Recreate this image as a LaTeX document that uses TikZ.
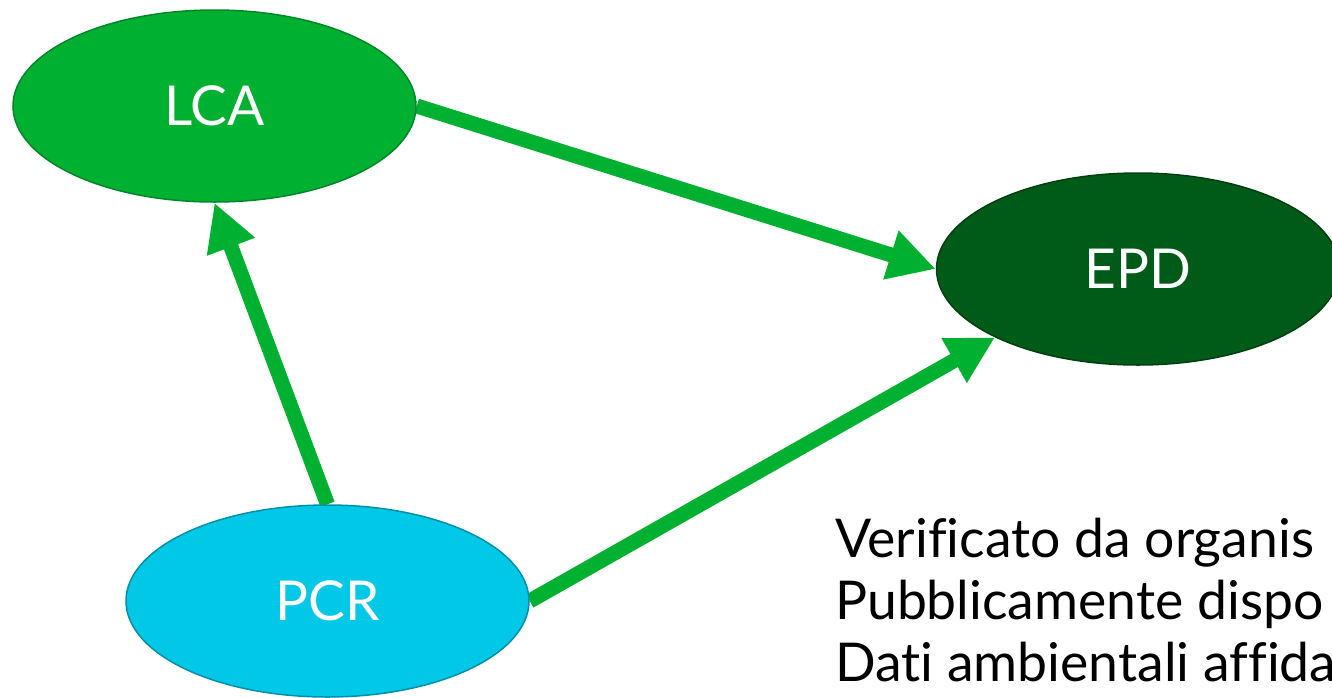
\documentclass[tikz,border=0pt]{standalone}
\usepackage{fontspec}
\setmainfont{Lato}[Ligatures=NoCommon]
\usetikzlibrary{arrows.meta,shapes.geometric,backgrounds}
\definecolor{lcagreen}{HTML}{00B030}
\definecolor{lcaborder}{HTML}{00862A}
\definecolor{epdgreen}{HTML}{005A18}
\definecolor{epdborder}{HTML}{003F10}
\definecolor{pcrcyan}{HTML}{00C8E6}
\definecolor{pcrborder}{HTML}{0090A8}
\begin{document}
\begin{tikzpicture}[x=1pt,y=-1pt,
  blob/.style={ellipse, minimum width=403pt, minimum height=192pt, inner sep=0pt,
    line width=1.5pt, text=white, font=\fontsize{55}{60}\selectfont},
  flow/.style={line width=15pt, draw=lcagreen, fill=lcagreen,
    -{Triangle[length=47pt,width=48pt]}},
  note/.style={anchor=base west, inner sep=0pt, font=\fontsize{53.5}{62}\selectfont}]
\clip (0,0) rectangle (1332,697);
\useasboundingbox (0,0) rectangle (1332,697);
\node[blob, fill=lcagreen, draw=lcaborder] (LCA) at (214.5,106) {LCA};
\node[blob, fill=epdgreen, draw=epdborder] (EPD) at (1138,269) {EPD};
\node[blob, fill=pcrcyan, draw=pcrborder] (PCR) at (327.5,601) {PCR};
\begin{scope}[on background layer]
\draw[flow] (LCA.east) -- (EPD.west);
\draw[flow] (PCR.north) -- (LCA.south);
\draw[flow] (PCR.east) -- (EPD.south west);
\end{scope}
\node[note] (n1) at (835,557) {Verificato da organis};
\node[note] (n2) at (835,619) {Pubblicamente dispo};
\node[note] (n3) at (835,681) {Dati ambientali affida};
\end{tikzpicture}
\end{document}
